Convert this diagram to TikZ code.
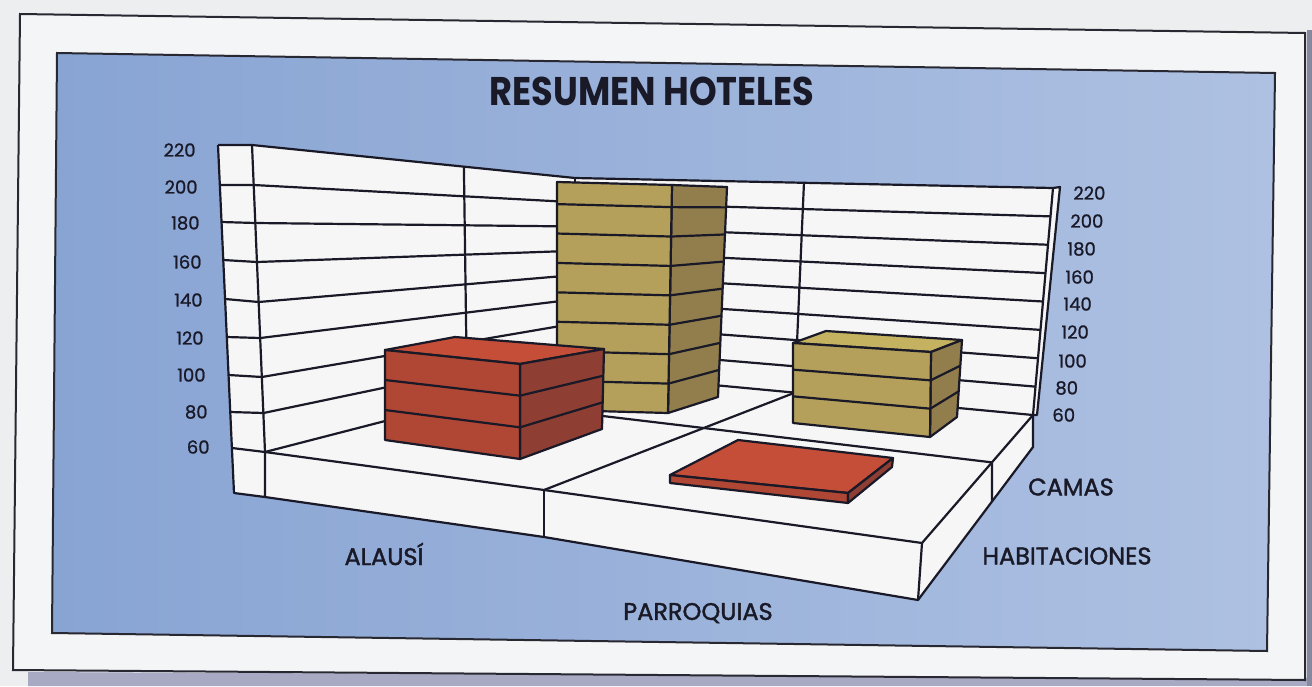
\documentclass[tikz,border=0pt]{standalone}
\usepackage{fontspec}
\setmainfont{Poppins}
\newfontfamily\labfont[FakeBold=1.6]{Poppins}
\newfontfamily\numfont[FakeBold=1.0]{Poppins}
\usetikzlibrary{calc}
\definecolor{paper}{RGB}{236,238,240}
\definecolor{paperdark}{RGB}{168,170,196}
\definecolor{frameline}{RGB}{40,40,50}
\definecolor{blueL}{RGB}{136,164,211}
\definecolor{blueR}{RGB}{174,193,226}
\definecolor{wallc}{RGB}{246,246,246}
\definecolor{redfront}{RGB}{176,70,52}
\definecolor{redside}{RGB}{142,62,50}
\definecolor{redtop}{RGB}{196,78,56}
\definecolor{goldfront}{RGB}{180,160,90}
\definecolor{goldside}{RGB}{146,126,76}
\definecolor{goldtop}{RGB}{196,178,96}
\definecolor{ink}{RGB}{25,25,40}
\tikzset{
  gl/.style={line width=1.1pt, draw=ink, line join=round},
  face/.style={gl, fill=#1},
  numlab/.style={font=\numfont\fontsize{9}{10}\selectfont, text=ink, inner sep=0pt},
  catlab/.style={font=\labfont\fontsize{12}{13}\selectfont, text=ink, inner sep=0pt},
}
\newcommand{\stripes}[5]{%
  \foreach \t in {#5} {\draw[gl] ($(#4)!\t!(#1)$) -- ($(#3)!\t!(#2)$);}%
}
\begin{document}
\begin{tikzpicture}[x=0.5pt,y=-0.5pt]
\useasboundingbox (0,0) rectangle (1312,686);
% paper
\fill[paper] (0,0) rectangle (1312,686);
\fill[paperdark] (28,672) -- (1312,678) -- (1312,686) -- (28,686) -- cycle;
\fill[paperdark!80!black] (1307,30) -- (1312,30) -- (1312,686) -- (1307,686) -- cycle;
\draw[line width=1pt, frameline, fill=paper!60!white] (20,14) -- (1305,33) -- (1305,680) -- (13,670) -- cycle;
% blue panel
\shade[left color=blueL, right color=blueR] (57,53) -- (1275,73) -- (1267,651) -- (52,633) -- cycle;
\draw[line width=1pt, frameline] (57,53) -- (1275,73) -- (1267,651) -- (52,633) -- cycle;
% title
\node[font=\bfseries\fontsize{20}{22}\selectfont, text=ink, inner sep=0pt] (title) at (652,91) {\scalebox{0.88}[1]{RESUMEN HOTELES}};

% ---- wall coordinates ----
\coordinate (O0) at (218,145);   \coordinate (L0) at (252,145);
\coordinate (O1) at (219.8,185); \coordinate (L1) at (253.7,185);
\coordinate (O2) at (221.5,222); \coordinate (L2) at (255.3,223);
\coordinate (O3) at (223.3,260); \coordinate (L3) at (257,262);
\coordinate (O4) at (225.1,299); \coordinate (L4) at (258.7,302);
\coordinate (O5) at (226.8,337); \coordinate (L5) at (260.3,338);
\coordinate (O6) at (228.6,375); \coordinate (L6) at (261.9,377);
\coordinate (O7) at (230.3,412); \coordinate (L7) at (263.5,413);
\coordinate (O8) at (231.9,448); \coordinate (L8) at (265,452);
\coordinate (Ob) at (234,493);   \coordinate (FLb) at (265,497);
\foreach \k in {0,...,8} {
  \coordinate (C\k) at (575,{178+24.25*\k});
  \coordinate (R\k) at ({1053-2.5*\k},{188+28.375*\k});
}
\coordinate (FM) at (544,490);  \coordinate (FR) at (922,543);
\coordinate (FMb) at (544,537); \coordinate (FRb) at (918,600);
\coordinate (BRb) at (1033,447);

% wall, floor and slab fills
\fill[wallc] (O0) -- (L0) -- (C0) -- (R0) -- (1060,187) -- (1037,415) -- (R8) -- (BRb) -- (FRb) -- (FMb) -- (FLb) -- (Ob) -- cycle;
% right thin strip
\draw[gl] (R0) -- (1060,187) -- (1037,415) -- (R8);
% gridlines
\foreach \k in {0,...,8} {
  \draw[gl] (O\k) -- (L\k) -- (C\k) -- (R\k);
}
% wall edges
\draw[gl] (O0) -- (O8) -- (Ob) -- (FLb) -- (L8) -- (L0);
\draw[gl] (C0) -- (C8);
\draw[gl] (R0) -- (R8);
% dividers on walls
\draw[gl] ($(L0)!0.656!(C0)$) -- ($(L8)!0.652!(C8)$) coordinate (SWfoot);
\draw[gl] ($(C0)!0.479!(R0)$) -- ($(C8)!0.48!(R8)$) coordinate (BWfoot);
% floor
\draw[gl] (L8) -- (FM) -- (FR) -- (R8);
\draw[gl] (FM) -- (BWfoot);
\draw[gl] (SWfoot) -- ($(R8)!0.37!(FR)$) coordinate (SDtop);
% slab faces
\draw[gl] (FLb) -- (FMb) -- (FRb) -- (BRb) -- (R8);
\draw[gl] (FM) -- (FMb);
\draw[gl] (FR) -- (FRb);
\draw[gl] (SDtop) -- ($(BRb)!0.357!(FRb)$);

% ---- tall gold bar (ALAUSI, CAMAS) ----
\coordinate (gTL) at (557,182); \coordinate (gTR) at (672,185);
\coordinate (gBR) at (668,413); \coordinate (gBL) at (557,410);
\coordinate (gSTR) at (727,187); \coordinate (gSBR) at (718,397);
\filldraw[face=goldside] (gTR) -- (gSTR) -- (gSBR) -- (gBR) -- cycle;
\filldraw[face=goldfront] (gTL) -- (gTR) -- (gBR) -- (gBL) -- cycle;
\stripes{gTL}{gTR}{gBR}{gBL}{0.129,0.258,0.387,0.516,0.645,0.774,0.903}
\stripes{gTR}{gSTR}{gSBR}{gBR}{0.129,0.258,0.387,0.516,0.645,0.774,0.903}

% ---- small gold bar (PARROQUIAS, CAMAS) ----
\coordinate (sTL) at (793,343); \coordinate (sTR) at (931,352);
\coordinate (sBR) at (930,437); \coordinate (sBL) at (793,423);
\coordinate (sSTR) at (962,340); \coordinate (sSBR) at (957,417);
\coordinate (sTB) at (826,331);
\filldraw[face=goldtop] (sTL) -- (sTB) -- (sSTR) -- (sTR) -- cycle;
\filldraw[face=goldside] (sTR) -- (sSTR) -- (sSBR) -- (sBR) -- cycle;
\filldraw[face=goldfront] (sTL) -- (sTR) -- (sBR) -- (sBL) -- cycle;
\stripes{sTL}{sTR}{sBR}{sBL}{0.3333,0.6667}
\stripes{sTR}{sSTR}{sSBR}{sBR}{0.3333,0.6667}

% ---- red bar (ALAUSI, HABITACIONES) ----
\coordinate (rTL) at (385,350); \coordinate (rTR) at (520,364);
\coordinate (rBR) at (520,459); \coordinate (rBL) at (385,440);
\coordinate (rSTR) at (604,349); \coordinate (rSBR) at (602,429);
\coordinate (rTB) at (455,337);
\filldraw[face=redtop] (rTL) -- (rTB) -- (rSTR) -- (rTR) -- cycle;
\filldraw[face=redside] (rTR) -- (rSTR) -- (rSBR) -- (rBR) -- cycle;
\filldraw[face=redfront] (rTL) -- (rTR) -- (rBR) -- (rBL) -- cycle;
\stripes{rTL}{rTR}{rBR}{rBL}{0.3333,0.6667}
\stripes{rTR}{rSTR}{rSBR}{rBR}{0.3333,0.6667}

% ---- red slab (PARROQUIAS, HABITACIONES) ----
\coordinate (pA) at (670,475); \coordinate (pB) at (738,440);
\coordinate (pC) at (893,458); \coordinate (pD) at (848,493);
\coordinate (pAb) at (670,483); \coordinate (pDb) at (848,503);
\coordinate (pCb) at (892,467);
\filldraw[face=redtop] (pA) -- (pB) -- (pC) -- (pD) -- cycle;
\filldraw[face=redfront] (pA) -- (pD) -- (pDb) -- (pAb) -- cycle;
\filldraw[face=redside] (pD) -- (pC) -- (pCb) -- (pDb) -- cycle;

% ---- axis labels ----
\foreach \v/\x/\y [count=\i] in {220/196/150,200/198/187,180/200/223,160/202/262,140/203/300,120/204/338,100/206/375,80/208/412,60/210/447} {
  \node[numlab, anchor=east] (ll\i) at (\x,\y) {\v};
}
\foreach \v/\x/\y [count=\i] in {220/1073/193,200/1070/221,180/1067/249,160/1065/277,140/1063/304,120/1061/332,100/1058/361,80/1055/388,60/1052/415} {
  \node[numlab, anchor=west] (rl\i) at (\x,\y) {\v};
}
\node[catlab] (alausi) at (384,554) {ALAUSÍ};
\node[catlab] (parroq) at (698,613) {PARROQUIAS};
\node[catlab] (camas) at (1071,487) {CAMAS};
\node[catlab] (habit) at (1067,556) {HABITACIONES};
\end{tikzpicture}
\end{document}
